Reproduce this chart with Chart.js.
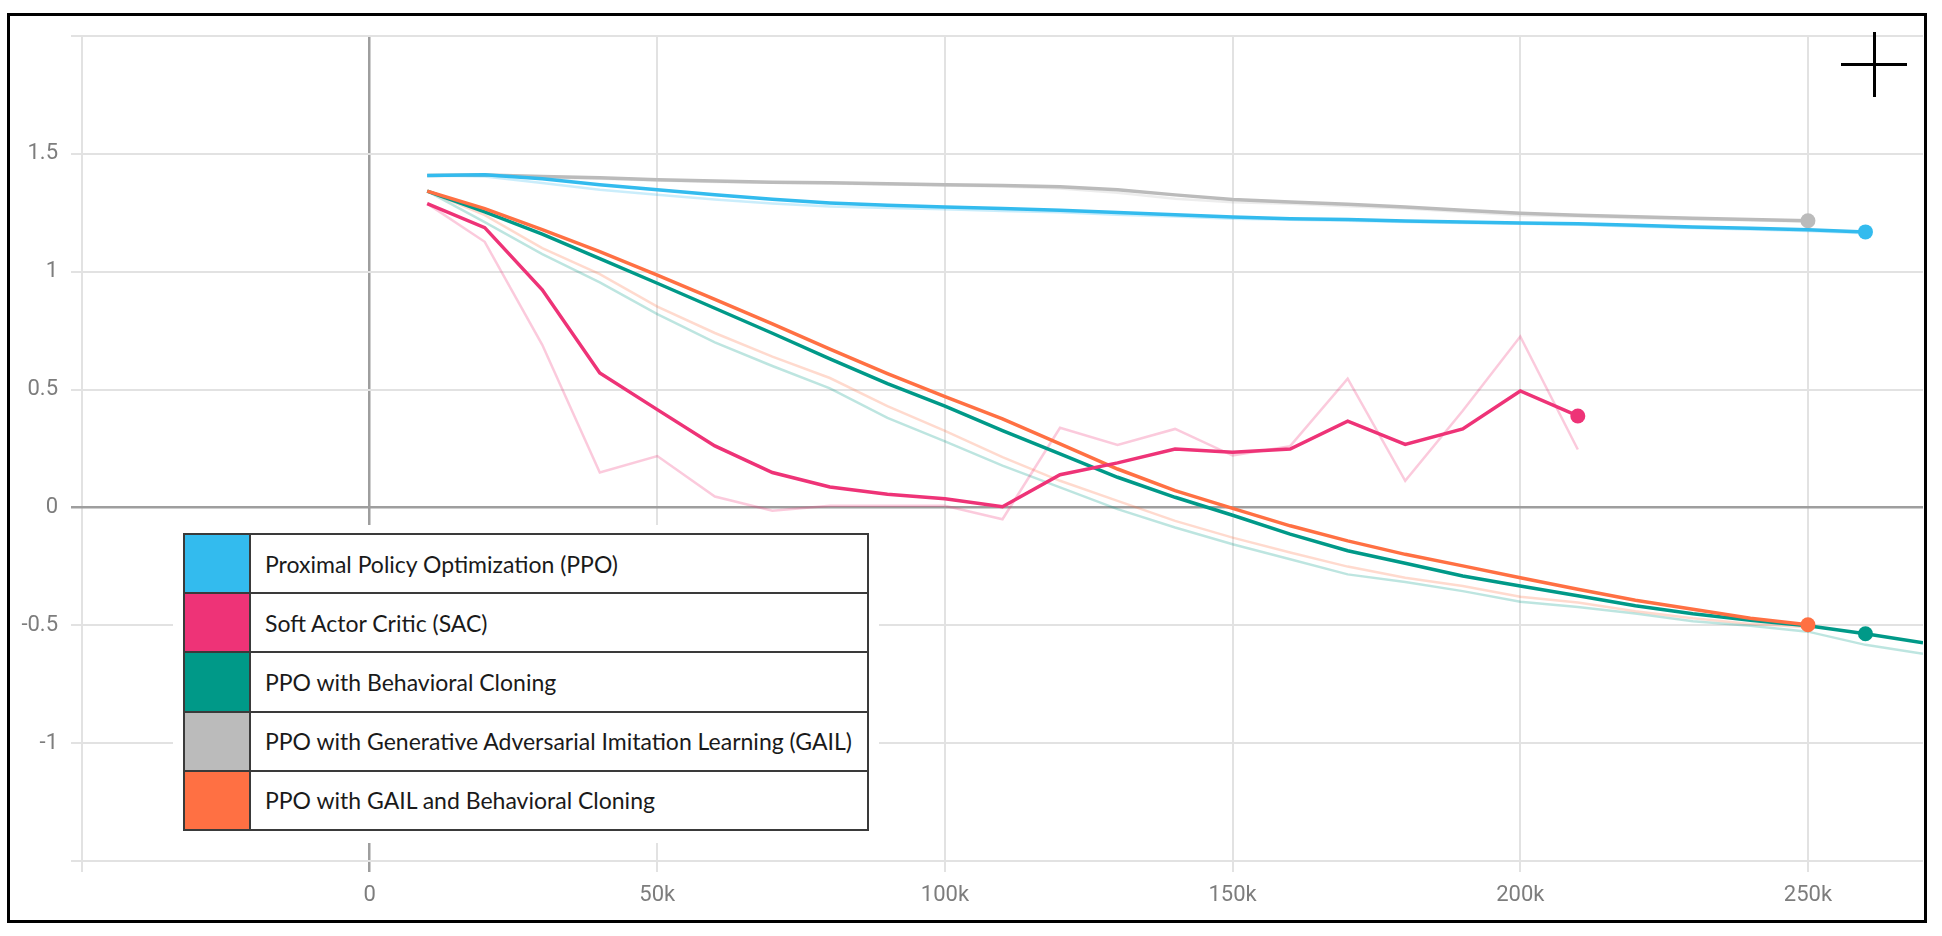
<!DOCTYPE html>
<html>
<head>
<meta charset="utf-8">
<title>Reward curves</title>
<script src="https://cdn.jsdelivr.net/npm/chart.js@4.4.1/dist/chart.umd.min.js"></script>
<style>
  html, body { margin: 0; padding: 0; background: #fff; }
  #wrap { position: relative; width: 1942px; height: 936px; overflow: hidden; background: #fff; }
  #chart { position: absolute; left: 0; top: 0; }
  #frame { position: absolute; left: 7px; top: 13px; width: 1920px; height: 910px; box-sizing: border-box; border: 3px solid #000; pointer-events: none; }
  .cross-h { position: absolute; left: 1841px; top: 63px; width: 66px; height: 3px; background: #000; }
  .cross-v { position: absolute; left: 1873px; top: 32px; width: 3px; height: 65px; background: #000; }
  #legendBox { position: absolute; left: 173px; top: 525px; width: 706px; height: 318px; background: #fff; box-sizing: border-box; padding: 8px 10px 12px 10px; }
  #legend { border-collapse: collapse; width: 686px; height: 298px; font-family: Lato, sans-serif; font-size: 23px; color: #1a1a1a; }
  #legend td { border: 2px solid #3a3a3a; padding: 0; }
  #legend td.sw { width: 64px; }
  #legend td.name { padding-left: 14px; }
</style>
</head>
<body>
<div id="wrap">
  <canvas id="chart" width="1942" height="936"></canvas>
  <div id="legendBox"><table id="legend"></table></div>
  <div class="cross-h"></div>
  <div class="cross-v"></div>
  <div id="frame"></div>
</div>
<script>
// training steps (x), every 10k
const steps = [10000, 20000, 30000, 40000, 50000, 60000, 70000, 80000, 90000, 100000,
  110000, 120000, 130000, 140000, 150000, 160000, 170000, 180000, 190000, 200000,
  210000, 220000, 230000, 240000, 250000, 260000, 270000];

const seriesNames = [
  'Proximal Policy Optimization (PPO)',
  'Soft Actor Critic (SAC)',
  'PPO with Behavioral Cloning',
  'PPO with Generative Adversarial Imitation Learning (GAIL)',
  'PPO with GAIL and Behavioral Cloning'
];
const seriesColors = ['#33bbee', '#ee3377', '#009988', '#bbbbbb', '#ff7043'];

// smoothed values (thick lines)
const ppoSmooth = [1.408, 1.411, 1.394, 1.369, 1.348, 1.327, 1.307, 1.292, 1.282, 1.275,
  1.268, 1.261, 1.251, 1.242, 1.232, 1.225, 1.221, 1.215, 1.211, 1.207,
  1.203, 1.197, 1.19, 1.184, 1.178, 1.169];
const sacSmooth = [1.289, 1.187, 0.923, 0.57, 0.415, 0.261, 0.148, 0.087, 0.056, 0.037,
  0.003, 0.139, 0.189, 0.248, 0.234, 0.248, 0.366, 0.267, 0.333, 0.494, 0.388];
const bcSmooth = [1.342, 1.254, 1.159, 1.056, 0.951, 0.845, 0.739, 0.63, 0.525, 0.43,
  0.326, 0.227, 0.128, 0.043, -0.033, -0.113, -0.184, -0.237, -0.291, -0.333,
  -0.375, -0.417, -0.451, -0.479, -0.502, -0.536, -0.574];
const gailSmooth = [1.408, 1.41, 1.404, 1.399, 1.39, 1.385, 1.38, 1.377, 1.373, 1.369,
  1.366, 1.36, 1.348, 1.326, 1.306, 1.296, 1.286, 1.275, 1.261, 1.248,
  1.24, 1.233, 1.227, 1.222, 1.216];
const gailBcSmooth = [1.342, 1.268, 1.179, 1.085, 0.986, 0.883, 0.779, 0.672, 0.568, 0.47,
  0.376, 0.27, 0.163, 0.071, -0.004, -0.078, -0.142, -0.199, -0.248, -0.298,
  -0.347, -0.394, -0.432, -0.47, -0.498];

// raw values (faint lines)
const ppoRaw = [1.408, 1.404, 1.376, 1.348, 1.327, 1.306, 1.289, 1.277, 1.27, 1.265,
  1.258, 1.252, 1.242, 1.234, 1.225, 1.22, 1.216, 1.211, 1.207, 1.203,
  1.199, 1.192, 1.185, 1.179, 1.173, 1.163];
const sacRaw = [1.289, 1.127, 0.69, 0.148, 0.218, 0.046, -0.014, 0.007, 0.007, 0.007,
  -0.05, 0.338, 0.265, 0.333, 0.22, 0.26, 0.546, 0.113, 0.41, 0.725, 0.246];
const bcRaw = [1.342, 1.21, 1.075, 0.955, 0.82, 0.7, 0.6, 0.505, 0.38, 0.28,
  0.177, 0.085, -0.007, -0.085, -0.156, -0.22, -0.284, -0.316, -0.355, -0.4,
  -0.422, -0.45, -0.483, -0.502, -0.527, -0.583, -0.621];
const gailRaw = [1.408, 1.409, 1.4, 1.394, 1.387, 1.381, 1.377, 1.374, 1.37, 1.366,
  1.362, 1.353, 1.335, 1.31, 1.295, 1.288, 1.278, 1.268, 1.253, 1.24,
  1.234, 1.227, 1.222, 1.218, 1.212];
const gailBcRaw = [1.342, 1.24, 1.1, 0.99, 0.852, 0.74, 0.64, 0.549, 0.43, 0.325,
  0.213, 0.113, 0.028, -0.057, -0.128, -0.191, -0.251, -0.298, -0.333, -0.379,
  -0.403, -0.44, -0.47, -0.494, -0.508];

// axis ticks (gridlines) and their labels; edge gridlines carry no label
const xGrid = [-50000, 0, 50000, 100000, 150000, 200000, 250000];
const xTickLabels = ['', '0', '50k', '100k', '150k', '200k', '250k'];
const yGrid = [-1.5, -1, -0.5, 0, 0.5, 1, 1.5, 2];
const yTickLabels = ['', '-1', '-0.5', '0', '0.5', '1', '1.5', ''];

const hoverStep = 260000; // mouse position: dots on the nearest step of each run

function toPoints(values) {
  return values.map((v, i) => ({ x: steps[i], y: v }));
}

function fade(hex, a) {
  const n = parseInt(hex.slice(1), 16);
  return 'rgba(' + (n >> 16) + ',' + ((n >> 8) & 255) + ',' + (n & 255) + ',' + a + ')';
}

function dotRadius(values) {
  let idx = 0;
  values.forEach((v, i) => { if (steps[i] <= hoverStep) idx = i; });
  return values.map((v, i) => (i === idx ? 7.5 : 0));
}

function smoothSet(k, values) {
  return {
    label: seriesNames[k],
    data: toPoints(values),
    borderColor: seriesColors[k],
    backgroundColor: seriesColors[k],
    borderWidth: 3.5,
    pointRadius: dotRadius(values),
    pointBorderWidth: 0,
    pointBackgroundColor: seriesColors[k],
    tension: 0
  };
}

function rawSet(k, values) {
  return {
    label: seriesNames[k] + ' (raw)',
    data: toPoints(values),
    borderColor: fade(seriesColors[k], 0.26),
    borderWidth: 2.5,
    pointRadius: 0,
    tension: 0
  };
}

// first dataset is painted last (on top)
const datasets = [
  smoothSet(0, ppoSmooth),
  smoothSet(1, sacSmooth),
  smoothSet(4, gailBcSmooth),
  smoothSet(2, bcSmooth),
  smoothSet(3, gailSmooth),
  rawSet(0, ppoRaw),
  rawSet(1, sacRaw),
  rawSet(4, gailBcRaw),
  rawSet(2, bcRaw),
  rawSet(3, gailRaw)
];

// legend table
const table = document.getElementById('legend');
seriesNames.forEach((name, k) => {
  const tr = document.createElement('tr');
  const sw = document.createElement('td');
  sw.className = 'sw';
  sw.style.background = seriesColors[k];
  const td = document.createElement('td');
  td.className = 'name';
  td.textContent = name;
  tr.appendChild(sw);
  tr.appendChild(td);
  table.appendChild(tr);
});

const tickFont = { family: 'Roboto', size: 22 };
const gridColor = ctx => (ctx.tick && ctx.tick.value === 0 ? '#9e9e9e' : '#e2e2e2');
const gridWidth = ctx => (ctx.tick && ctx.tick.value === 0 ? 2.5 : 2);

new Chart(document.getElementById('chart'), {
  type: 'line',
  data: { datasets: datasets },
  options: {
    responsive: false,
    animation: false,
    devicePixelRatio: 1,
    layout: { padding: { top: 36, right: 19, left: 0, bottom: 0 } },
    plugins: {
      legend: { display: false },
      tooltip: { enabled: false }
    },
    scales: {
      x: {
        type: 'linear',
        min: -50000,
        max: 270000,
        border: { display: false },
        grid: { color: gridColor, lineWidth: gridWidth, tickLength: 11 },
        afterBuildTicks: s => { s.ticks = xGrid.map(v => ({ value: v })); },
        ticks: {
          maxRotation: 0,
          autoSkip: false,
          padding: 10,
          color: '#7d7d7d',
          font: tickFont,
          callback: v => xTickLabels[xGrid.indexOf(v)] || ''
        },
        afterFit: s => { s.height = 75; }
      },
      y: {
        type: 'linear',
        min: -1.5,
        max: 2,
        border: { display: false },
        grid: { color: gridColor, lineWidth: gridWidth, tickLength: 11 },
        afterBuildTicks: s => { s.ticks = yGrid.map(v => ({ value: v })); },
        ticks: {
          autoSkip: false,
          padding: 13,
          color: '#7d7d7d',
          font: tickFont,
          callback: v => yTickLabels[yGrid.indexOf(v)] || ''
        },
        afterFit: s => { s.width = 82; }
      }
    }
  }
});
</script>
</body>
</html>
